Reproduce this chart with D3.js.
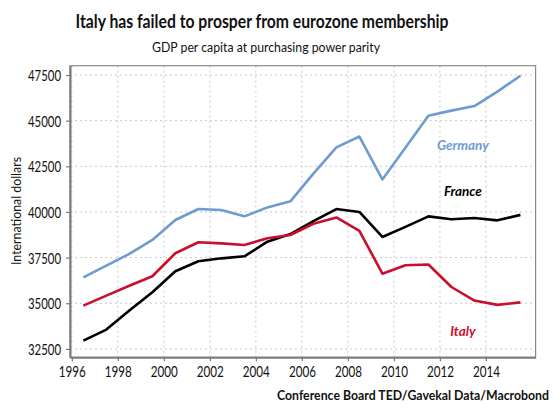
<!DOCTYPE html>
<html><head><meta charset="utf-8">
<script src="https://cdn.jsdelivr.net/npm/d3@7"></script>
<style>
html,body{margin:0;padding:0;background:#fff;}
svg{display:block;}
text{font-family:"Lato","Open Sans",sans-serif;}
</style></head>
<body>
<svg id="chart" width="554" height="416"></svg>
<script>
const years = [1996.5,1997.5,1998.5,1999.5,2000.5,2001.5,2002.5,2003.5,2004.5,2005.5,2006.5,2007.5,2008.5,2009.5,2010.5,2011.5,2012.5,2013.5,2014.5,2015.5];
const germany = [36420,37060,37700,38470,39560,40160,40110,39760,40250,40580,42100,43540,44130,41780,43520,45270,45550,45800,46590,47460];
const france  = [32950,33560,34600,35600,36750,37300,37460,37570,38370,38790,39500,40160,40000,38630,39180,39760,39600,39670,39540,39840];
const italy   = [34870,35420,35960,36480,37740,38340,38280,38190,38560,38740,39350,39700,38970,36620,37080,37120,35890,35150,34910,35050];
const xTicks = [1996,1998,2000,2002,2004,2006,2008,2010,2012,2014];
const yTicks = [32500,35000,37500,40000,42500,45000,47500];

const svg = d3.select("#chart");
const L=70, R=535.6, T=65.7, B=357.3;
const x = d3.scaleLinear().domain([1995.92,2016.16]).range([L,R]);
const y = d3.scaleLinear().domain([32040,48010]).range([B,T]);

// grid
const g = svg.append("g");
g.selectAll(".gx").data(xTicks).join("line")
  .attr("x1",d=>x(d)).attr("x2",d=>x(d)).attr("y1",T).attr("y2",B)
  .attr("stroke","#c8c8c8").attr("stroke-width",1).attr("stroke-dasharray","2,3");
g.selectAll(".gy").data(yTicks).join("line")
  .attr("x1",L).attr("x2",R).attr("y1",d=>y(d)).attr("y2",d=>y(d))
  .attr("stroke","#c8c8c8").attr("stroke-width",1).attr("stroke-dasharray","2,3");

// frame
svg.append("rect").attr("x",L).attr("y",T).attr("width",R-L).attr("height",B-T)
  .attr("fill","none").attr("stroke","#8a8a8a").attr("stroke-width",1.2);

// axes
const xAxis = d3.axisBottom(x).tickValues(xTicks).tickFormat(d3.format("d")).tickSize(4).tickSizeOuter(0);
const yAxis = d3.axisLeft(y).tickValues(yTicks).tickFormat(d3.format("d")).tickSize(4).tickSizeOuter(0);
const gx = svg.append("g").attr("transform",`translate(0,${B})`).call(xAxis);
const gy = svg.append("g").attr("transform",`translate(${L},0)`).call(yAxis);
[gx,gy].forEach(a=>{
  a.select(".domain").attr("stroke","#7a7a7a").attr("stroke-width",2);
  a.selectAll(".tick line").attr("stroke","#7a7a7a").attr("stroke-width",1.2);
  a.selectAll(".tick text").attr("fill","#111").style("font-size","15.5px")
   .style("font-family",'"Lato",sans-serif');
});
gx.selectAll(".tick text").attr("dy",null).attr("y",20).attr("textLength",27).attr("lengthAdjust","spacingAndGlyphs");
gy.selectAll(".tick text").attr("x",-9).attr("dy","0.36em").attr("textLength",33).attr("lengthAdjust","spacingAndGlyphs");

// lines
const line = d3.line().x((d,i)=>x(years[i])).y(d=>y(d));
const series = [
  {name:"Germany", vals:germany, color:"#6e9bd0", lx:2013.0, ly:43650},
  {name:"France", vals:france, color:"#000000", lx:2013.0, ly:41130},
  {name:"Italy", vals:italy, color:"#c8102e", lx:2013.0, ly:33450}
];
series.forEach(s=>{
  svg.append("path").datum(s.vals).attr("d",line).attr("fill","none")
    .attr("stroke",s.color).attr("stroke-width",2.6).attr("stroke-linejoin","round");
  svg.append("text").attr("x",x(s.lx)).attr("y",y(s.ly)).attr("dy","0.35em")
    .attr("text-anchor","middle").attr("fill",s.color)
    .style("font-size","13.5px").style("font-weight","bold").style("font-style","italic")
    .text(s.name);
});

// titles
svg.append("text").attr("x",262).attr("y",28).attr("text-anchor","middle")
  .attr("textLength",373).attr("lengthAdjust","spacingAndGlyphs")
  .style("font-size","19px").style("font-weight","bold").attr("fill","#111")
  .text("Italy has failed to prosper from eurozone membership");
svg.append("text").attr("x",266).attr("y",52).attr("text-anchor","middle")
  .attr("textLength",228).attr("lengthAdjust","spacingAndGlyphs")
  .style("font-size","13.5px").attr("fill","#111")
  .text("GDP per capita at purchasing power parity");
svg.append("text").attr("transform","translate(21,211) rotate(-90)").attr("text-anchor","middle")
  .attr("textLength",108).attr("lengthAdjust","spacingAndGlyphs")
  .style("font-size","13.5px").attr("fill","#111").text("International dollars");
svg.append("text").attr("x",413).attr("y",400).attr("text-anchor","middle")
  .attr("textLength",272).attr("lengthAdjust","spacingAndGlyphs")
  .style("font-size","12.5px").style("font-weight","bold").attr("fill","#111")
  .text("Conference Board TED/Gavekal Data/Macrobond");
</script>
</body></html>
